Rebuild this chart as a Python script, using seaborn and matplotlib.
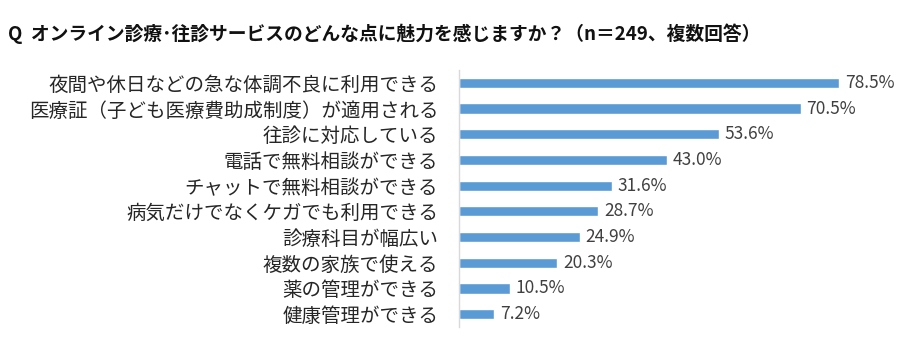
import matplotlib
matplotlib.use("Agg")
import matplotlib.pyplot as plt
import seaborn as sns
import pandas as pd

categories = [
    "夜間や休日などの急な体調不良に利用できる",
    "医療証（子ども医療費助成制度）が適用される",
    "往診に対応している",
    "電話で無料相談ができる",
    "チャットで無料相談ができる",
    "病気だけでなくケガでも利用できる",
    "診療科目が幅広い",
    "複数の家族で使える",
    "薬の管理ができる",
    "健康管理ができる",
]
values = [78.5, 70.5, 53.6, 43.0, 31.6, 28.7, 24.9, 20.3, 10.5, 7.2]
title = "Q  オンライン診療･往診サービスのどんな点に魅力を感じますか？（n＝249、複数回答）"

sns.set_theme(style="white")
plt.rcParams["font.family"] = ["Noto Sans CJK JP", "DejaVu Sans"]

df = pd.DataFrame({"item": categories, "pct": values})

fig = plt.figure(figsize=(9.16, 3.46), dpi=100)
W, H = 916, 346
ax = fig.add_axes([459 / W, 1 - 327 / H, (895 - 459) / W, (327 - 70) / H])

sns.barplot(data=df, x="pct", y="item", color="#5B9BD5", saturation=1,
            width=0.4, ax=ax)

ax.set_xlim(0, 90)
ax.set_ylim(len(categories) - 0.5, -0.5)
ax.set_xlabel("")
ax.set_ylabel("")
ax.set_xticks([])
ax.tick_params(axis="y", length=0, pad=15, labelsize=14, labelcolor="#262626")
for s in ["top", "right", "bottom"]:
    ax.spines[s].set_visible(False)
ax.spines["left"].set_color("#d9d9d9")
ax.spines["left"].set_linewidth(1.0)

for i, v in enumerate(values):
    ax.text(v + 1.2, i, f"{v:.1f}%", va="center", ha="left",
            fontsize=12.5, color="#404040")

fig.text(8 / W, 1 - 34 / H, title, fontsize=13.5, fontweight="bold",
         ha="left", va="center", color="#111111")

fig.savefig("out.png", dpi=100, facecolor="white")
